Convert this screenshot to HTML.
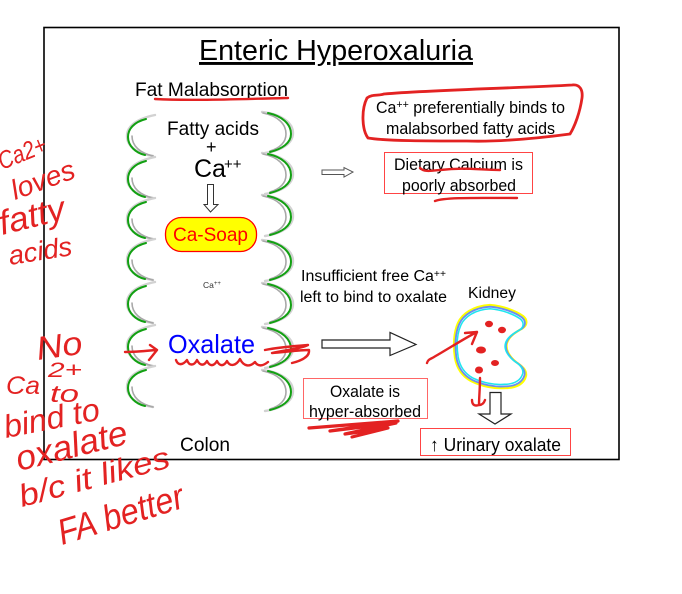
<!DOCTYPE html>
<html><head><meta charset="utf-8"><style>
html,body{margin:0;padding:0;background:#fff}
svg{display:block}
text{font-family:"Liberation Sans",sans-serif;fill:#000}
.h{font-family:"Liberation Sans",sans-serif;font-style:italic;fill:#e32222}
.r{fill:none;stroke:#e32222;stroke-width:2.4;stroke-linecap:round;stroke-linejoin:round}
</style></head><body>
<svg width="682" height="594" viewBox="0 0 682 594" xmlns="http://www.w3.org/2000/svg">
<defs>
<g id="L" fill="none" stroke-linecap="round">
<path d="M155 0C135 4 127 12 127 21C127 32 138 39 153 41" stroke="#d2d2d2" stroke-width="2.400"/>
<path d="M153 41C140 38 132 31 132 21" stroke="#a8a8a8" stroke-width="1.600"/>
<path d="M146 4C134 7 128 14 128 22C128 31 136 38 145 40" stroke="#12a012" stroke-width="2"/>
</g>
<g id="R" fill="none" stroke-linecap="round">
<path d="M262 0C280 2 293 10 293 21C293 32 280 39 265 41" stroke="#d2d2d2" stroke-width="2.400"/>
<path d="M263 1C278 4 286 12 286 22C286 30 280 36 270 39" stroke="#a8a8a8" stroke-width="1.600"/>
<path d="M268 1C282 4 291 12 291 22C291 31 282 37 270 40" stroke="#12a012" stroke-width="2"/>
</g>
<path id="K" d="M490 305C503 306 516 311 523 316C528 320 527 325 523 328C516 332 509 336 507 343C505 350 510 357 516 362C522 366 527 370 526 376C524 384 516 388 506 388C494 389 481 386 471 381C462 376 457 369 455 358C453 345 454 332 458 323C462 314 473 306 490 305Z"/>
</defs>

<rect x="44" y="27.500" width="575" height="432" fill="#fff" stroke="#000" stroke-width="1.600"/>

<text x="199" y="60" font-size="29" textLength="274" lengthAdjust="spacingAndGlyphs" text-decoration="underline">Enteric Hyperoxaluria</text>
<text x="135" y="96" font-size="19.500" textLength="153" lengthAdjust="spacingAndGlyphs">Fat Malabsorption</text>

<use href="#L" y="115"/><use href="#L" y="157"/><use href="#L" y="198"/><use href="#L" y="239"/><use href="#L" y="282"/><use href="#L" y="325"/><use href="#L" y="366"/>
<use href="#R" y="112"/><use href="#R" y="153"/><use href="#R" y="195"/><use href="#R" y="240"/><use href="#R" y="283"/><use href="#R" y="327"/><use href="#R" y="370"/>

<text x="167" y="135" font-size="19.500" textLength="92" lengthAdjust="spacingAndGlyphs">Fatty acids</text>
<text x="206" y="153" font-size="18">+</text>
<text x="194" y="177" font-size="25">Ca</text>
<text x="224" y="169" font-size="15">++</text>
<path d="M207.500 184.500H213.500V204.500H218L210.500 212L204 204.500H207.500Z" fill="#fff" stroke="#333" stroke-width="1"/>
<rect x="165.500" y="217.500" width="91" height="34" rx="16" fill="#ff0" stroke="#f00" stroke-width="1.300"/>
<text x="173" y="241" font-size="19.500" style="fill:#f00" textLength="75" lengthAdjust="spacingAndGlyphs">Ca-Soap</text>
<text x="203" y="288" font-size="8.500" style="fill:#333">Ca<tspan font-size="6" dy="-3">++</tspan></text>
<text x="168" y="353" font-size="26" style="fill:#00f" textLength="87" lengthAdjust="spacingAndGlyphs">Oxalate</text>
<text x="180" y="451" font-size="19" textLength="50" lengthAdjust="spacingAndGlyphs">Colon</text>

<path d="M322 170H344V167.500L353 172L344 177V174.500H322Z" fill="#fff" stroke="#555" stroke-width="1"/>
<text x="376" y="113" font-size="16.500" textLength="189" lengthAdjust="spacingAndGlyphs">Ca<tspan font-size="11" dy="-5">++</tspan><tspan dy="5"> preferentially binds to</tspan></text>
<text x="386" y="134" font-size="16.500" textLength="169" lengthAdjust="spacingAndGlyphs">malabsorbed fatty acids</text>
<rect x="384.500" y="152.500" width="148" height="41" fill="none" stroke="#f44" stroke-width="1"/>
<text x="394" y="170" font-size="16.500" textLength="129" lengthAdjust="spacingAndGlyphs">Dietary Calcium is</text>
<text x="402" y="191" font-size="16.500" textLength="114" lengthAdjust="spacingAndGlyphs">poorly absorbed</text>

<text x="301" y="281" font-size="15.500" textLength="145" lengthAdjust="spacingAndGlyphs">Insufficient free Ca<tspan font-size="10" dy="-4">++</tspan></text>
<text x="300" y="302" font-size="15.500" textLength="147" lengthAdjust="spacingAndGlyphs">left to bind to oxalate</text>
<text x="468" y="298" font-size="15.500" textLength="48" lengthAdjust="spacingAndGlyphs">Kidney</text>

<path d="M322 340H390V332.500L416 344.500L390 355.500V348H322Z" fill="#fff" stroke="#222" stroke-width="1.200"/>
<rect x="303.500" y="378.500" width="124" height="40" fill="none" stroke="#f66" stroke-width="1"/>
<text x="330" y="397" font-size="16.500" textLength="70" lengthAdjust="spacingAndGlyphs">Oxalate is</text>
<text x="309" y="417" font-size="16.500" textLength="112" lengthAdjust="spacingAndGlyphs">hyper-absorbed</text>

<path d="M490 392.500H501V414H511L495 424L479 414H490Z" fill="#fff" stroke="#222" stroke-width="1.200"/>
<rect x="420.500" y="428.500" width="150" height="27" fill="none" stroke="#f44" stroke-width="1"/>
<text x="430" y="451" font-size="18.500" textLength="131" lengthAdjust="spacingAndGlyphs">↑ Urinary oxalate</text>

<use href="#K" fill="#fff" stroke="#ff0" stroke-width="2.200"/>
<use href="#K" fill="none" stroke="#6c8cf0" stroke-width="1.900" transform="translate(490 347) scale(.96) translate(-490 -347)"/>
<use href="#K" fill="none" stroke="#1fe6ef" stroke-width="1.700" transform="translate(490 347) scale(.91) translate(-490 -347)"/>

<!-- ink marks -->
<path class="r" d="M155 99C190 101 240 99 288 98"/>
<path class="r" style="stroke-width:2.800" d="M367 98C372 94 378 96 384 94C430 90 520 88 572 85C580 84 583 90 582 98C580 112 575 126 570 134C540 138 500 142 467 141C430 141 385 141 368 138C362 130 361 110 367 98Z"/>
<path class="r" d="M420 168C424 172 430 171 440 170C465 167 480 170 500 170"/>
<path class="r" d="M435 201C445 197 480 198 517 198"/>
<path class="r" d="M125 352C136 352 146 351 156 350M150 345L157 350L149 360"/>
<path class="r" d="M176 360C178 366 183 365 187 360C189 366 194 366 197 360C200 366 204 366 207 361C210 367 214 366 217 361C220 367 224 366 227 361C230 367 236 366 240 359C244 367 250 367 255 362C258 367 263 366 268 362"/>
<path class="r" d="M265 350C275 348 295 346 308 345C300 349 285 350 272 353C285 352 300 350 309 350C310 357 300 361 292 363"/>
<path class="r" style="stroke-width:3.200" d="M309 428L398 421L330 431L396 423L345 434L388 428L352 437"/>
<path class="r" d="M427 363C428 359 431 359 434 357C448 349 465 338 477 332M465 333L477 332L472 344"/>
<path class="r" d="M480 378C480 388 479 398 479 405C476 406 472 406 472 400M479 405C482 405 484 403 485 400"/>
<g fill="#e32222"><ellipse cx="489" cy="324" rx="4" ry="3.200"/><ellipse cx="502" cy="330" rx="4" ry="3.200"/><ellipse cx="481" cy="350" rx="5" ry="3.500"/><ellipse cx="495" cy="363" rx="4" ry="3"/><ellipse cx="479" cy="370" rx="4" ry="3.500"/></g>

<!-- handwritten notes as live text -->
<text class="h" transform="translate(2 170) rotate(-22)" font-size="25" textLength="50" lengthAdjust="spacingAndGlyphs">Ca2+</text>
<text class="h" transform="translate(15 200) rotate(-20)" font-size="28" textLength="66" lengthAdjust="spacingAndGlyphs">loves</text>
<text class="h" transform="translate(2 235) rotate(-14)" font-size="34" textLength="67" lengthAdjust="spacingAndGlyphs">fatty</text>
<text class="h" transform="translate(10 265) rotate(-9)" font-size="27" textLength="64" lengthAdjust="spacingAndGlyphs">acids</text>
<text class="h" transform="translate(38 360) rotate(-8)" font-size="33" textLength="46" lengthAdjust="spacingAndGlyphs">No</text>
<text class="h" transform="translate(48 377)" font-size="21" textLength="34" lengthAdjust="spacingAndGlyphs">2+</text>
<text class="h" transform="translate(6 394)" font-size="25" textLength="34" lengthAdjust="spacingAndGlyphs">Ca</text>
<text class="h" transform="translate(50 402)" font-size="24" textLength="29" lengthAdjust="spacingAndGlyphs">to</text>
<text class="h" transform="translate(6 438) rotate(-11)" font-size="32" textLength="97" lengthAdjust="spacingAndGlyphs">bind to</text>
<text class="h" transform="translate(19 471) rotate(-14)" font-size="35" textLength="114" lengthAdjust="spacingAndGlyphs">oxalate</text>
<text class="h" transform="translate(22 507) rotate(-15)" font-size="31" textLength="155" lengthAdjust="spacingAndGlyphs">b/c it likes</text>
<text class="h" transform="translate(62 545) rotate(-17)" font-size="36" textLength="130" lengthAdjust="spacingAndGlyphs">FA better</text>
</svg>
</body></html>
